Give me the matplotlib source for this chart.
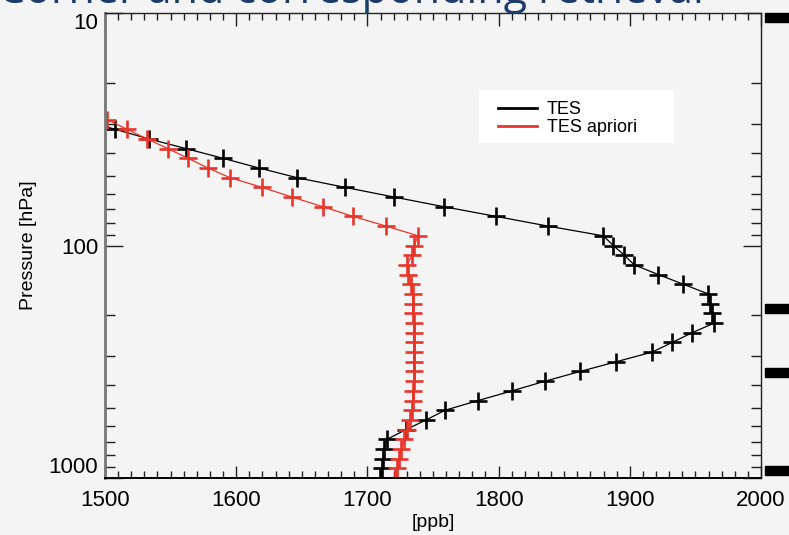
import matplotlib
matplotlib.use("Agg")
import matplotlib.pyplot as plt
from matplotlib.lines import Line2D
from matplotlib.patches import Rectangle
from matplotlib.ticker import FixedLocator, MultipleLocator, NullFormatter

plt.rcParams['font.family'] = ['Liberation Sans', 'DejaVu Sans']

# TES pressure grid [hPa], surface to upper levels
pressure = [1000.0, 908.51, 825.40, 749.89, 681.29, 618.97, 562.34, 510.90,
            464.16, 421.70, 383.12, 348.07, 316.23, 287.30, 261.02, 237.14,
            215.44, 195.73, 177.83, 161.56, 146.78, 133.35, 121.15, 110.07,
            100.0, 90.85, 82.54, 74.99, 68.13, 61.90, 56.23, 51.09,
            46.42, 42.17, 38.31, 34.81, 31.62, 28.73, 26.10]

# CH4 retrieval [ppb]
tes = [1709.7, 1711.2, 1712.0, 1712.8, 1715.0, 1729.5, 1744.8, 1759.3,
       1784.5, 1810.4, 1835.5, 1862.2, 1889.7, 1917.1, 1932.4, 1947.6,
       1964.4, 1962.9, 1961.4, 1959.8, 1940.8, 1921.7, 1903.4, 1895.8,
       1887.4, 1879.8, 1837.8, 1798.2, 1758.5, 1720.4, 1683.0, 1646.4,
       1617.4, 1590.0, 1561.8, 1533.6, 1507.6, 1482.0, 1457.0]

# CH4 a priori [ppb]
apriori = [1721.0, 1722.7, 1724.2, 1725.7, 1728.0, 1730.3, 1732.6, 1734.1,
           1734.9, 1734.9, 1735.6, 1735.6, 1735.6, 1735.6, 1735.6, 1735.6,
           1735.6, 1734.9, 1734.9, 1734.9, 1733.4, 1731.1, 1730.3, 1734.1,
           1735.6, 1738.7, 1714.3, 1689.1, 1666.2, 1642.6, 1619.7, 1595.3,
           1578.5, 1563.3, 1548.0, 1532.0, 1516.8, 1501.5, 1487.0]

bg = '#f4f4f4'
red = '#e8352a'

fig = plt.figure(figsize=(7.89, 5.35), dpi=100, facecolor=bg)
ax = fig.add_axes([105/789, 57/535, 656/789, 465/535], facecolor=bg)

ax.plot(tes, pressure, color='black', lw=0.9, marker='+', ms=12.5,
        mew=1.9, mec='black')
ax.plot(apriori, pressure, color=red, lw=0.9, marker='+', ms=12.5,
        mew=1.9, mec=red)

ax.set_yscale('log')
ax.set_xlim(1500, 2000)
ax.set_ylim(1000, 10)

ax.xaxis.set_major_locator(MultipleLocator(100))
ax.xaxis.set_minor_locator(MultipleLocator(10))
ax.set_yticks([10, 100, 1000])
ax.set_yticklabels(['10', '100', '1000'])
ax.yaxis.set_minor_locator(FixedLocator([20, 30, 40, 50, 60, 70, 80, 90,
                                         200, 300, 400, 500, 600, 700, 800, 900]))
ax.yaxis.set_minor_formatter(NullFormatter())

ax.tick_params(which='both', direction='in', top=True, right=True,
               labelsize=16, color='#222222')
ax.tick_params(axis='x', which='major', length=9, width=1, pad=9)
ax.tick_params(axis='x', which='minor', length=5, width=1)
ax.tick_params(axis='y', which='major', length=13, width=1, pad=5)
ax.tick_params(axis='y', which='minor', length=7, width=1)

labels = ax.get_yticklabels()
labels[0].set_va('top')
labels[-1].set_va('bottom')

ax.spines['left'].set_color('#777777')
ax.spines['left'].set_linewidth(2)
ax.spines['bottom'].set_linewidth(1.4)
for s in ['top', 'right']:
    ax.spines[s].set_color('#222222')
    ax.spines[s].set_linewidth(1)

ax.set_xlabel('[ppb]', fontsize=14, labelpad=2)
ax.set_ylabel('Pressure [hPa]', fontsize=14, labelpad=8)

# white legend panel
ax.add_patch(Rectangle((0.570, 0.720), 0.297, 0.114, transform=ax.transAxes,
                       facecolor='white', edgecolor='none', zorder=4))
handles = [Line2D([], [], color='black', lw=2),
           Line2D([], [], color=red, lw=2)]
leg = ax.legend(handles, ['TES', 'TES apriori'], loc='upper left',
                bbox_to_anchor=(393/656, 377/465), borderaxespad=0,
                borderpad=0, fontsize=13, frameon=False, handlelength=2.15,
                handletextpad=0.55, labelspacing=0.06)
leg.set_zorder(5)

# slide heading running above the plot
fig.text(704/789, 1 - 3.5/535, 'Corner and corresponding retrieval',
         ha='right', va='baseline', fontsize=31, color='#1c3d6b',
         family=['Open Sans', 'DejaVu Sans'])

# slide markers on the right edge
for y0 in [13, 304, 368, 466]:
    fig.patches.append(Rectangle((765/789, 1 - (y0 + 9)/535), 24/789, 9/535,
                                 transform=fig.transFigure, color='black'))

fig.savefig('out.png', dpi=100, facecolor=bg)
